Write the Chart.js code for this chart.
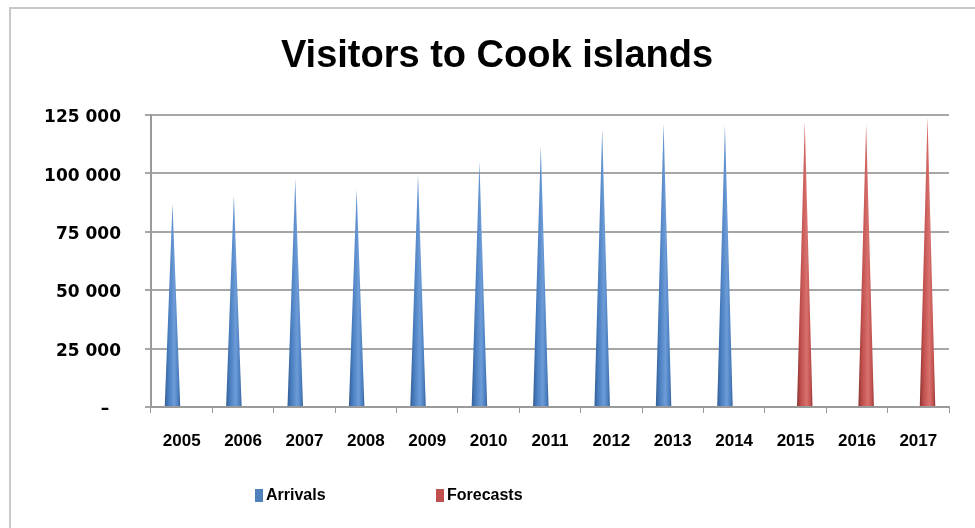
<!DOCTYPE html>
<html>
<head>
<meta charset="utf-8">
<script src="https://cdn.jsdelivr.net/npm/chart.js@4/dist/chart.umd.min.js"></script>
<style>
  html, body { margin: 0; padding: 0; background: #fff; }
  #wrap { width: 975px; height: 528px; }
</style>
</head>
<body>
<div id="wrap"><canvas id="visitors"></canvas></div>
<script>
var years = ["2005","2006","2007","2008","2009","2010","2011","2012","2013","2014","2015","2016","2017"];
var arrivals = [87000, 90500, 97500, 93000, 99300, 104700, 111500, 119000, 121300, 120500, null, null, null];
var forecasts = [null, null, null, null, null, null, null, null, null, null, 121800, 121000, 124000];
var yTicks = [0, 25000, 50000, 75000, 100000, 125000];

var sans = "'Liberation Sans', Arial, sans-serif";

// cone shades: dark edge, main, highlight
var coneShades = [
	["#335e96", "#4a7ebf", "#6d9cd8"],
	["#8c3431", "#c0504d", "#d9716e"]
];

var frame = {
	id: 'frame',
	beforeDraw: function(chart){
		var c = chart.ctx;
		c.save();
		c.fillStyle = '#fff';
		c.fillRect(0, 0, chart.width, chart.height);
		c.strokeStyle = '#c8c8c8';
		c.lineWidth = 2;
		c.strokeRect(10, 8, chart.width + 10, chart.height + 10);
		c.restore();
	}
};

// draw each bar as a cone instead of a rectangle
var cones = {
	id: 'cones',
	beforeDatasetsDraw: function(chart){
		var c = chart.ctx;
		var area = chart.chartArea;
		c.save();
		c.beginPath();
		c.rect(area.left, area.top - 20, area.right - area.left, area.bottom - area.top + 20);
		c.clip();
		chart.data.datasets.forEach(function(ds, di){
			var meta = chart.getDatasetMeta(di);
			meta.data.forEach(function(bar, i){
				if (ds.data[i] == null) return;
				var p = bar.getProps(['x', 'y', 'base', 'width'], true);
				var half = p.width / 2;
				var sh = coneShades[di];
				var g = c.createLinearGradient(p.x - half, 0, p.x + half, 0);
				g.addColorStop(0, sh[0]);
				g.addColorStop(0.25, sh[1]);
				g.addColorStop(0.62, sh[2]);
				g.addColorStop(0.88, sh[1]);
				g.addColorStop(1, sh[0]);
				c.beginPath();
				c.moveTo(p.x - half, p.base);
				c.lineTo(p.x, p.y);
				c.lineTo(p.x + half, p.base);
				c.closePath();
				c.fillStyle = g;
				c.fill();
			});
		});
		c.restore();
		return false;
	}
};

// legend sits left of centre with a wide gap, like the original
var legendSpots = [255, 436];
var bottomLegend = {
	id: 'bottomLegend',
	afterDraw: function(chart){
		var c = chart.ctx;
		c.save();
		c.font = 'bold 16px ' + sans;
		c.textBaseline = 'middle';
		chart.data.datasets.forEach(function(ds, di){
			var x = legendSpots[di];
			c.fillStyle = ds.backgroundColor;
			c.fillRect(x, 489, 8, 13);
			c.fillStyle = '#000';
			c.fillText(ds.label, x + 11, 496);
		});
		c.restore();
	}
};

window.onload = function(){
	var ctx = document.getElementById("visitors").getContext("2d");
	window.visitChart = new Chart(ctx, {
		type: 'bar',
		data: {
			labels: years,
			datasets: [
				{ label: "Arrivals", data: arrivals, backgroundColor: "#4f81bd", borderWidth: 0 },
				{ label: "Forecasts", data: forecasts, backgroundColor: "#c0504d", borderWidth: 0 }
			]
		},
		plugins: [frame, cones, bottomLegend],
		options: {
			responsive: true,
			maintainAspectRatio: false,
			animation: false,
			categoryPercentage: 0.6,
			barPercentage: 0.84,
			layout: { padding: { left: 45, right: 26, top: 10, bottom: 79 } },
			scales: {
				x: {
					offset: true,
					border: { color: '#9a9a9a', width: 2 },
					grid: { offset: true, drawOnChartArea: false, color: '#9a9a9a', tickLength: 6, lineWidth: 1 },
					ticks: { color: '#000', padding: 18, font: { family: sans, size: 17, weight: 'bold' } },
					afterFit: function(s){ s.height = 42; }
				},
				y: {
					min: 0,
					max: 125000,
					afterBuildTicks: function(s){ s.ticks = yTicks.map(function(v){ return { value: v }; }); },
					border: { color: '#9a9a9a', width: 2 },
					grid: { color: '#a6a6a6', lineWidth: 2, tickLength: 6 },
					ticks: {
						color: '#000',
						padding: 24,
						labelOffset: 3,
						font: { family: "'DejaVu Sans', sans-serif", size: 17, weight: 'bold' },
						callback: function(v){
							if (v === 0) return '\u2013  ';
							return String(v).replace(/\B(?=(\d{3})+(?!\d))/g, ' ');
						}
					},
					afterFit: function(s){ s.width = 106; }
				}
			},
			plugins: {
				title: {
					display: true,
					text: 'Visitors to Cook islands',
					color: '#000',
					font: { family: sans, size: 38, weight: 'bold' },
					padding: { top: 24, bottom: 35 }
				},
				legend: { display: false },
				tooltip: { enabled: false }
			}
		}
	});
};
</script>
</body>
</html>
